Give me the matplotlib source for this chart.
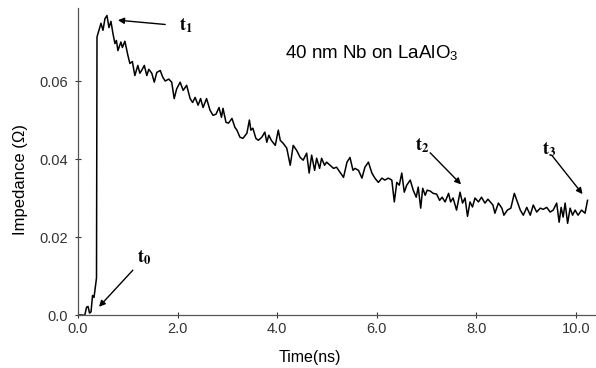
import matplotlib
matplotlib.use("Agg")
import matplotlib.pyplot as plt

# ==========================================
# Data
# ==========================================

time_ns = [
    0.00, 0.05, 0.10, 0.13, 0.17, 0.20, 0.23, 0.26, 0.29, 0.32, 0.37, 0.38,
    0.46, 0.50, 0.54, 0.58, 0.62, 0.66, 0.70, 0.74, 0.77, 0.80, 0.86, 0.89,
    0.94, 1.00, 1.04, 1.09, 1.14, 1.20, 1.24, 1.28, 1.33, 1.38, 1.42, 1.48,
    1.53, 1.58, 1.65, 1.70, 1.75, 1.82, 1.88, 1.93, 1.98, 2.05, 2.11, 2.18,
    2.25, 2.30, 2.35, 2.41, 2.46, 2.51, 2.58, 2.65, 2.71, 2.77, 2.83, 2.88,
    2.91, 2.97, 3.02, 3.09, 3.15, 3.19, 3.25, 3.31, 3.39, 3.44, 3.47, 3.51,
    3.57, 3.62, 3.69, 3.75, 3.79, 3.83, 3.88, 3.96, 4.02, 4.06, 4.12, 4.19,
    4.26, 4.32, 4.39, 4.46, 4.52, 4.59, 4.64, 4.69, 4.75, 4.79, 4.85, 4.89,
    4.95, 4.99, 5.06, 5.13, 5.19, 5.26, 5.33, 5.40, 5.46, 5.52, 5.56, 5.63,
    5.70, 5.76, 5.83, 5.90, 5.96, 6.03, 6.10, 6.16, 6.23, 6.30, 6.35, 6.40,
    6.45, 6.50, 6.55, 6.60, 6.67, 6.73, 6.79, 6.83, 6.88, 6.92, 6.97, 7.01,
    7.07, 7.13, 7.20, 7.26, 7.31, 7.37, 7.44, 7.48, 7.53, 7.60, 7.67, 7.72,
    7.77, 7.82, 7.87, 7.92, 7.97, 8.04, 8.10, 8.17, 8.23, 8.33, 8.37, 8.44,
    8.51, 8.55, 8.62, 8.69, 8.76, 8.81, 8.88, 8.94, 9.01, 9.08, 9.14, 9.21,
    9.28, 9.34, 9.41, 9.48, 9.54, 9.61, 9.66, 9.70, 9.74, 9.78, 9.83, 9.88,
    9.93, 9.98, 10.04, 10.11, 10.18, 10.23,
]

impedance = [
    0.0000, 0.0000, 0.0000, -0.0003, 0.0020, 0.0022, 0.0005, 0.0008, 0.0050, 0.0045, 0.0095, 0.0713,
    0.0748, 0.0730, 0.0760, 0.0768, 0.0737, 0.0753, 0.0722, 0.0696, 0.0704, 0.0678, 0.0700, 0.0686,
    0.0702, 0.0666, 0.0645, 0.0650, 0.0614, 0.0640, 0.0620, 0.0628, 0.0640, 0.0614, 0.0630, 0.0620,
    0.0597, 0.0622, 0.0627, 0.0610, 0.0600, 0.0605, 0.0597, 0.0555, 0.0580, 0.0597, 0.0576, 0.0589,
    0.0555, 0.0545, 0.0558, 0.0538, 0.0555, 0.0532, 0.0555, 0.0525, 0.0512, 0.0515, 0.0532, 0.0507,
    0.0530, 0.0494, 0.0492, 0.0504, 0.0481, 0.0474, 0.0456, 0.0453, 0.0466, 0.0500, 0.0474, 0.0479,
    0.0453, 0.0448, 0.0456, 0.0469, 0.0443, 0.0461, 0.0448, 0.0435, 0.0474, 0.0448, 0.0440, 0.0428,
    0.0384, 0.0435, 0.0422, 0.0404, 0.0397, 0.0415, 0.0364, 0.0410, 0.0371, 0.0402, 0.0376, 0.0402,
    0.0384, 0.0392, 0.0384, 0.0376, 0.0379, 0.0366, 0.0353, 0.0392, 0.0404, 0.0371, 0.0376, 0.0371,
    0.0351, 0.0379, 0.0392, 0.0364, 0.0351, 0.0340, 0.0351, 0.0346, 0.0351, 0.0346, 0.0290, 0.0340,
    0.0333, 0.0364, 0.0315, 0.0333, 0.0346, 0.0320, 0.0302, 0.0328, 0.0274, 0.0325, 0.0307, 0.0320,
    0.0318, 0.0312, 0.0310, 0.0294, 0.0302, 0.0290, 0.0312, 0.0290, 0.0300, 0.0269, 0.0315, 0.0287,
    0.0300, 0.0253, 0.0290, 0.0277, 0.0300, 0.0290, 0.0302, 0.0287, 0.0297, 0.0282, 0.0261, 0.0287,
    0.0274, 0.0256, 0.0269, 0.0274, 0.0312, 0.0294, 0.0269, 0.0256, 0.0276, 0.0256, 0.0282, 0.0264,
    0.0274, 0.0271, 0.0276, 0.0264, 0.0269, 0.0287, 0.0238, 0.0276, 0.0251, 0.0287, 0.0235, 0.0274,
    0.0256, 0.0269, 0.0256, 0.0269, 0.0261, 0.0294,
]

x_ticks = [0, 2, 4, 6, 8, 10]
x_tick_labels = ["0.0", "2.0", "4.0", "6.0", "8.0", "10.0"]
y_ticks = [0.0, 0.02, 0.04, 0.06]
y_tick_labels = ["0.0", "0.02", "0.04", "0.06"]

# annotation labels: (text, text pos, arrow tail, arrow tip)
marker_names = ["1", "0", "2", "3"]
marker_text = [(2.02, 0.0742), (1.18, 0.0146), (6.77, 0.0435), (9.31, 0.0424)]
marker_tail = [(1.75, 0.0745), (1.10, 0.0115), (7.07, 0.0416), (9.51, 0.0410)]
marker_tip = [(0.80, 0.0756), (0.42, 0.0021), (7.69, 0.0335), (10.13, 0.0310)]

# ==========================================
# Plot
# ==========================================

plt.rcParams["font.family"] = ["Liberation Sans", "DejaVu Sans"]
plt.rcParams["mathtext.fontset"] = "stix"

fig = plt.figure(figsize=(5.96, 3.68), dpi=100)
ax = fig.add_axes([0.131, 0.144, 0.869, 0.834])

ax.plot(time_ns, impedance, color="black", linewidth=1.1)

ax.set_xlim(0, 10.4)
ax.set_ylim(0, 0.0787)

ax.set_xticks(x_ticks)
ax.set_xticklabels(x_tick_labels)
ax.set_yticks(y_ticks)
ax.set_yticklabels(y_tick_labels)
ax.tick_params(direction="inout", length=4, width=0.8, labelsize=10.5, colors="#333333")
ax.tick_params(axis="x", pad=3)
ax.tick_params(axis="y", pad=5)

for side in ["top", "right"]:
    ax.spines[side].set_visible(False)
for side in ["left", "bottom"]:
    ax.spines[side].set_color("#555555")
    ax.spines[side].set_linewidth(0.9)

ax.set_ylabel("Impedance (Ω)", fontsize=12, va="center")
ax.yaxis.set_label_coords(-0.112, 0.44)
ax.set_xlabel("Time(ns)", fontsize=11.5, va="center")
ax.xaxis.set_label_coords(0.448, -0.14)

ax.text(4.16, 0.0671, r"40 nm Nb on LaAlO$_\mathregular{3}$", fontsize=13.5, va="center")

for name, txt, tail, tip in zip(marker_names, marker_text, marker_tail, marker_tip):
    ax.annotate("", xy=tip, xytext=tail,
                arrowprops=dict(arrowstyle="-|>", color="black", lw=1.0,
                                mutation_scale=9, shrinkA=0, shrinkB=0))
    ax.text(txt[0], txt[1], r"$\mathbf{t}_{\mathbf{%s}}$" % name,
            fontsize=13, ha="left", va="center")

fig.savefig("out.png", dpi=100)
